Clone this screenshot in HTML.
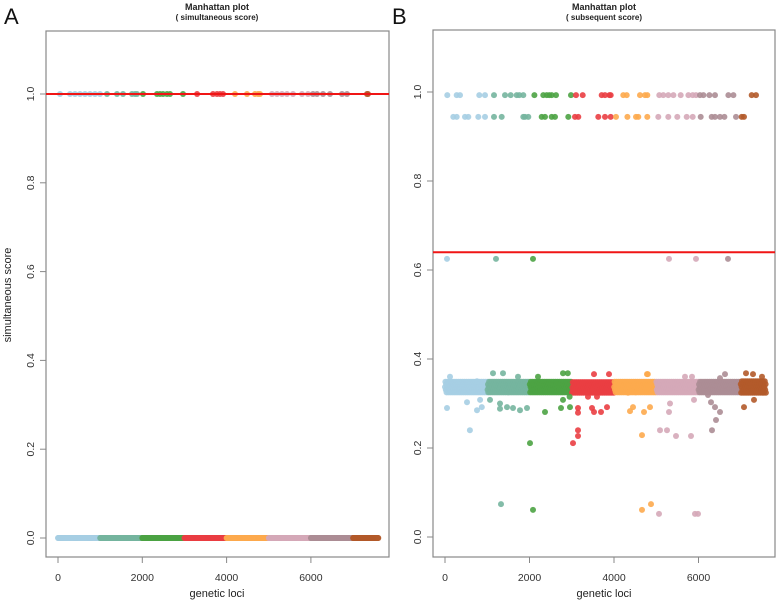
<!DOCTYPE html>
<html><head><meta charset="utf-8">
<style>
html,body{margin:0;padding:0;background:#fff;}
svg{display:block;font-family:"Liberation Sans",Arial,sans-serif;}
</style></head>
<body>
<svg id="chart" width="777" height="605" viewBox="0 0 777 605" xmlns="http://www.w3.org/2000/svg">
  <text x="4" y="24" font-size="22" fill="#111">A</text>
  <text x="392" y="24" font-size="22" fill="#111">B</text>
  <text x="217" y="10" font-size="9" font-weight="bold" text-anchor="middle" fill="#222">Manhattan plot</text>
  <text x="217" y="20" font-size="8" font-weight="bold" text-anchor="middle" fill="#222">( simultaneous score)</text>
  <text x="604" y="10" font-size="9" font-weight="bold" text-anchor="middle" fill="#222">Manhattan plot</text>
  <text x="604" y="20" font-size="8" font-weight="bold" text-anchor="middle" fill="#222">( subsequent score)</text>
  <text transform="translate(11,295) rotate(-90)" font-size="11" text-anchor="middle" fill="#222">simultaneous score</text>
  <text x="217" y="597" font-size="11" text-anchor="middle" fill="#222">genetic loci</text>
  <text x="604" y="597" font-size="11" text-anchor="middle" fill="#222">genetic loci</text>
  <g id="gA"></g>
  <g id="gB"></g>
</svg>
<script>
const chromColors = ["#A6CEE3","#75B59E","#4DA344","#EA3E42","#FDAA4E","#D5A8B8","#AC8D95","#B35A2A"];
const xTicks = [0,2000,4000,6000];
const yTicks = [0.0,0.2,0.4,0.6,0.8,1.0];
const yTickLabels = ["0.0","0.2","0.4","0.6","0.8","1.0"];
const lociMax = 7600;
// Panel A
const aThreshold = 1.0;
const aTopLoci = [47,285,403,522,641,759,878,997,1163,1400,1542,1756,1827,1875,2017,2349,2420,2492,2586,2658,2966,3299,3678,3773,3844,3915,4200,4484,4674,4745,4793,5078,5196,5315,5433,5576,5789,5931,6050,6145,6287,6453,6738,6856,7330,7354];
const aBaseValue = 0.0;
// Panel B
const bThreshold = 0.64;
const bRow1Value = 0.993;
const bRow1Loci = [55,276,355,813,947,1160,1420,1554,1696,1759,1854,2115,2327,2406,2469,2525,2627,2983,3100,3258,3708,3787,3890,3921,4221,4300,4616,4734,4789,5073,5168,5286,5405,5578,5760,5862,5941,6036,6115,6257,6391,6707,6825,7259,7362];
const bRow2Value = 0.944;
const bRow2Loci = [197,276,473,552,789,947,1160,1341,1854,1893,1972,2288,2367,2525,2604,2919,3077,3156,3629,3787,3921,4047,4316,4521,4576,4789,5049,5286,5499,5720,5862,6052,6312,6391,6509,6612,6888,7022,7077];
const bMidValue = 0.625;
const bMidLoci = [47,1207,2083,5302,5941,6698];
const bClusterCenter = [0.337,0.337,0.337,0.336,0.337,0.337,0.337,0.337];
const bClusterSpread = [0.012,0.012,0.012,0.012,0.012,0.012,0.012,0.013];
const bOutLoci = [118,47,590,520,830,757,870,757, 1136,1373,1065,1302,1467,1610,1775,1941,1728,1302, 2012,2201,2367,2793,2906,2746,2793,2959,2950, 3030,3148,3148,3148,3148,3527,3882,3480,3527,3693,3835,3385,3598, 4781,4800,4663,4379,4450,4710,4852,4332, 5089,5255,5468,5823,5302,5326,5681,5847,5894, 6320,6415,6509,6391,6296,6627,6509,6225, 7125,7290,7503,7314,7077,7527, 1325,2083,4663,4876,5065,5917,5988];
const bOutValues = [0.36,0.29,0.24,0.303,0.308,0.285,0.292,0.35, 0.368,0.368,0.308,0.288,0.292,0.29,0.285,0.29,0.36,0.30, 0.211,0.36,0.281,0.368,0.368,0.29,0.308,0.292,0.315, 0.211,0.227,0.24,0.29,0.279,0.366,0.366,0.29,0.281,0.281,0.292,0.315,0.315, 0.366,0.366,0.229,0.283,0.292,0.281,0.292,0.324, 0.24,0.24,0.227,0.227,0.281,0.30,0.36,0.36,0.308, 0.24,0.263,0.281,0.292,0.303,0.366,0.357,0.319, 0.368,0.366,0.36,0.308,0.292,0.326, 0.074,0.061,0.061,0.074,0.052,0.052,0.052];

const NS="http://www.w3.org/2000/svg";
function chromOf(l){return Math.min(7,Math.floor(l/1000));}
function makePanel(g, box, x0px, x2000px, y0px, y1px){
  const sx = v => x0px + v*(x2000px-x0px)/2000;
  const sy = v => y0px + v*(y1px-y0px);
  const frame=document.createElementNS(NS,'rect');
  frame.setAttribute('x',box.l);frame.setAttribute('y',box.t);
  frame.setAttribute('width',box.r-box.l);frame.setAttribute('height',box.b-box.t);
  frame.setAttribute('fill','none');frame.setAttribute('stroke','#888');frame.setAttribute('stroke-width','1.2');
  
  
  g.appendChild(frame);
  xTicks.forEach(t=>{
    const ln=document.createElementNS(NS,'line');
    ln.setAttribute('x1',sx(t));ln.setAttribute('x2',sx(t));ln.setAttribute('y1',box.b);ln.setAttribute('y2',box.b+6);
    ln.setAttribute('stroke','#888');
    
    
    g.appendChild(ln);
    const tx=document.createElementNS(NS,'text');
    tx.setAttribute('x',sx(t));tx.setAttribute('y',box.b+24);tx.setAttribute('font-size','10.5');tx.setAttribute('text-anchor','middle');tx.setAttribute('fill','#333');
    tx.textContent=String(t);
    
    
    g.appendChild(tx);
  });
  yTicks.forEach((t,i)=>{
    const ln=document.createElementNS(NS,'line');
    ln.setAttribute('x1',box.l-6);ln.setAttribute('x2',box.l);ln.setAttribute('y1',sy(t));ln.setAttribute('y2',sy(t));
    ln.setAttribute('stroke','#888');
    
    
    g.appendChild(ln);
    const tx=document.createElementNS(NS,'text');
    tx.setAttribute('transform','translate('+(box.l-12)+','+sy(t)+') rotate(-90)');
    tx.setAttribute('font-size','10.5');tx.setAttribute('text-anchor','middle');tx.setAttribute('fill','#333');
    tx.textContent=yTickLabels[i];
    
    
    g.appendChild(tx);
  });
  return {sx,sy};
}
function dot(g,x,y,c,name){
  const d=document.createElementNS(NS,'circle');
  d.setAttribute('cx',x.toFixed(1));d.setAttribute('cy',y.toFixed(1));d.setAttribute('r','3');
  d.setAttribute('fill',c);d.setAttribute('fill-opacity','0.9');
  
  
  g.appendChild(d);
}
function hline(g,x1,x2,y,name){
  const l=document.createElementNS(NS,'line');
  l.setAttribute('x1',x1);l.setAttribute('x2',x2);l.setAttribute('y1',y);l.setAttribute('y2',y);
  l.setAttribute('stroke','#F01515');l.setAttribute('stroke-width','2');
  
  
  g.appendChild(l);
}
// Panel A
const gA=document.getElementById('gA');
const boxA={l:46,r:389,t:31,b:557};
const A=makePanel(gA,boxA,58,142.3,538,94);
for(let l=0;l<=lociMax;l+=8){dot(gA,A.sx(l),A.sy(aBaseValue),chromColors[chromOf(l)],'baseline-point');}
aTopLoci.forEach(l=>dot(gA,A.sx(l),A.sy(1.0),chromColors[chromOf(l)],'top-point'));
hline(gA,boxA.l,boxA.r,A.sy(aThreshold),'threshold-line-a');
// Panel B
const gB=document.getElementById('gB');
const boxB={l:433,r:775,t:30,b:557};
const B=makePanel(gB,boxB,445,529.5,537,92);
const jitterLevels=[0,1,-0.5,0.5,-1];
for(let l=0;l<=lociMax;l+=9){
  const c=chromOf(l);
  const k=Math.round(l/9)%5;
  dot(gB,B.sx(l),B.sy(bClusterCenter[c]+jitterLevels[k]*bClusterSpread[c]),chromColors[c],'cluster-point');
}
bOutLoci.forEach((l,i)=>dot(gB,B.sx(l),B.sy(bOutValues[i]),chromColors[chromOf(l)],'outlier-point'));
bRow1Loci.forEach(l=>dot(gB,B.sx(l),B.sy(bRow1Value),chromColors[chromOf(l)],'high-point'));
bRow2Loci.forEach(l=>dot(gB,B.sx(l),B.sy(bRow2Value),chromColors[chromOf(l)],'high-point'));
bMidLoci.forEach(l=>dot(gB,B.sx(l),B.sy(bMidValue),chromColors[chromOf(l)],'mid-point'));
hline(gB,boxB.l,boxB.r,B.sy(bThreshold),'threshold-line-b');
</script>
</body></html>
